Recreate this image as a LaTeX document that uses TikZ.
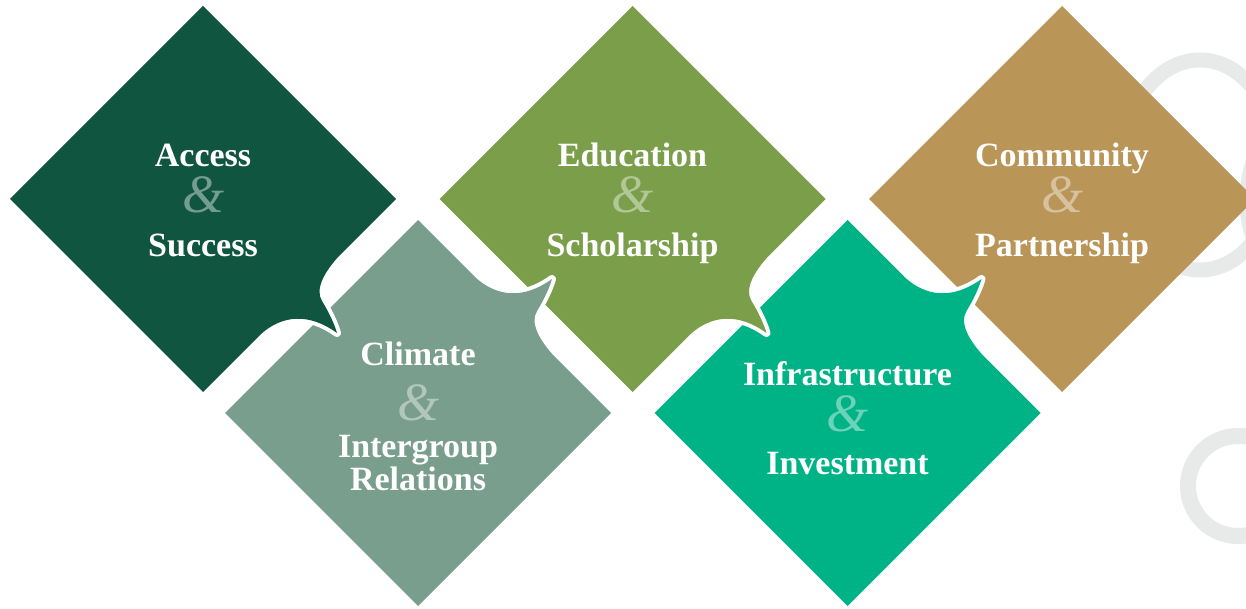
\documentclass[tikz,border=0pt]{standalone}
\usepackage{fontspec}
\setmainfont{Liberation Serif}
\definecolor{cAccess}{HTML}{10553F}
\definecolor{cClimate}{HTML}{799E8D}
\definecolor{cEducation}{HTML}{7A9E4A}
\definecolor{cInfra}{HTML}{00B387}
\definecolor{cCommunity}{HTML}{B99558}
\definecolor{ringgrey}{HTML}{E8EAE9}
\newcommand\mytail[2]{%
  \begin{scope}[#2]
    \coordinate (#1A) at (-55,0);
    \coordinate (#1p) at (-35,1);
    \coordinate (#1q) at (-15,6);
    \coordinate (#1B) at (-12,20);
    \coordinate (#1r) at (-9,32);
    \coordinate (#1s) at (-5,44);
    \coordinate (#1T) at (0,53);
    \coordinate (#1u) at (4,28);
    \coordinate (#1v) at (18,2);
    \coordinate (#1E) at (55,0);
  \end{scope}}
\newcommand\myverts[2]{%
  \begin{scope}[shift={#2}]
    \coordinate (#1N) at (0,193);
    \coordinate (#1E) at (193,0);
    \coordinate (#1S) at (0,-193);
    \coordinate (#1W) at (-193,0);
  \end{scope}}
\newcommand\brpath[2]{(#1N) -- (#1E) -- (#2A) .. controls (#2p) and (#2q) .. (#2B) .. controls (#2r) and (#2s) .. (#2T) .. controls (#2u) and (#2v) .. (#2E) -- (#1S) -- (#1W) -- cycle}
\newcommand\urpath[2]{(#1W) -- (#1N) -- (#2E) .. controls (#2v) and (#2u) .. (#2T) .. controls (#2s) and (#2r) .. (#2B) .. controls (#2q) and (#2p) .. (#2A) -- (#1E) -- (#1S) -- cycle}
\begin{document}
\begin{tikzpicture}[x=1pt,y=1pt,
  word/.style={text=white, font=\fontsize{34}{40}\selectfont\bfseries, anchor=base, inner sep=0pt},
  amp/.style={font=\fontsize{54}{54}\selectfont\itshape, anchor=base, inner sep=0pt},
  gapline/.style={draw=white, line width=8pt, line join=round},
  ring/.style={draw=ringgrey, line width=15pt}]
\useasboundingbox (0,0) rectangle (1246,-609);
\clip (0,0) rectangle (1246,-609);
\fill[white] (0,0) rectangle (1246,-609);
% background rings
\draw[ring] (1200,-165) ellipse [x radius=78, y radius=105];
\draw[ring] (1292,-200) ellipse [x radius=45, y radius=75];
\draw[ring, line width=16pt] (1238,-486) circle [radius=50];
% geometry
\myverts{d1}{(203,-199)}
\myverts{d2}{(418,-413)}
\myverts{d3}{(632.5,-199)}
\myverts{d4}{(847.5,-413)}
\myverts{d5}{(1062,-199)}
\mytail{t1}{shift={(299.5,-295.5)}, rotate=225}
\mytail{t2}{shift={(514.5,-316.5)}, rotate=135, yscale=-1}
\mytail{t3}{shift={(729,-295.5)}, rotate=225}
\mytail{t4}{shift={(944,-316.5)}, rotate=135, yscale=-1}
% diamonds, back to front
\fill[cCommunity] (d5N) -- (d5E) -- (d5S) -- (d5W) -- cycle;
\draw[gapline] \urpath{d4}{t4};
\fill[cInfra] \urpath{d4}{t4};
\draw[gapline] \brpath{d3}{t3};
\fill[cEducation] \brpath{d3}{t3};
\draw[gapline] \urpath{d2}{t2};
\fill[cClimate] \urpath{d2}{t2};
\draw[gapline] \brpath{d1}{t1};
\fill[cAccess] \brpath{d1}{t1};
% texts
\node[word] (a1) at (203,-167) {Access};
\node[amp, text=white!42!cAccess] (a2) at (203,-213) {\&};
\node[word] (a3) at (203,-257) {Success};
\node[word] (b1) at (418,-365) {Climate};
\node[amp, text=white!42!cClimate] (b2) at (418,-420) {\&};
\node[word] (b3) at (418,-457) {Intergroup};
\node[word] (b4) at (418,-490) {Relations};
\node[word] (c1) at (632.5,-167) {Education};
\node[amp, text=white!42!cEducation] (c2) at (632.5,-213) {\&};
\node[word] (c3) at (632.5,-257) {Scholarship};
\node[word] (e1) at (847.5,-385) {Infrastructure};
\node[amp, text=white!42!cInfra] (e2) at (847.5,-431) {\&};
\node[word] (e3) at (847.5,-474) {Investment};
\node[word] (f1) at (1062,-167) {Community};
\node[amp, text=white!42!cCommunity] (f2) at (1062,-213) {\&};
\node[word] (f3) at (1062,-257) {Partnership};
\end{tikzpicture}
\end{document}
